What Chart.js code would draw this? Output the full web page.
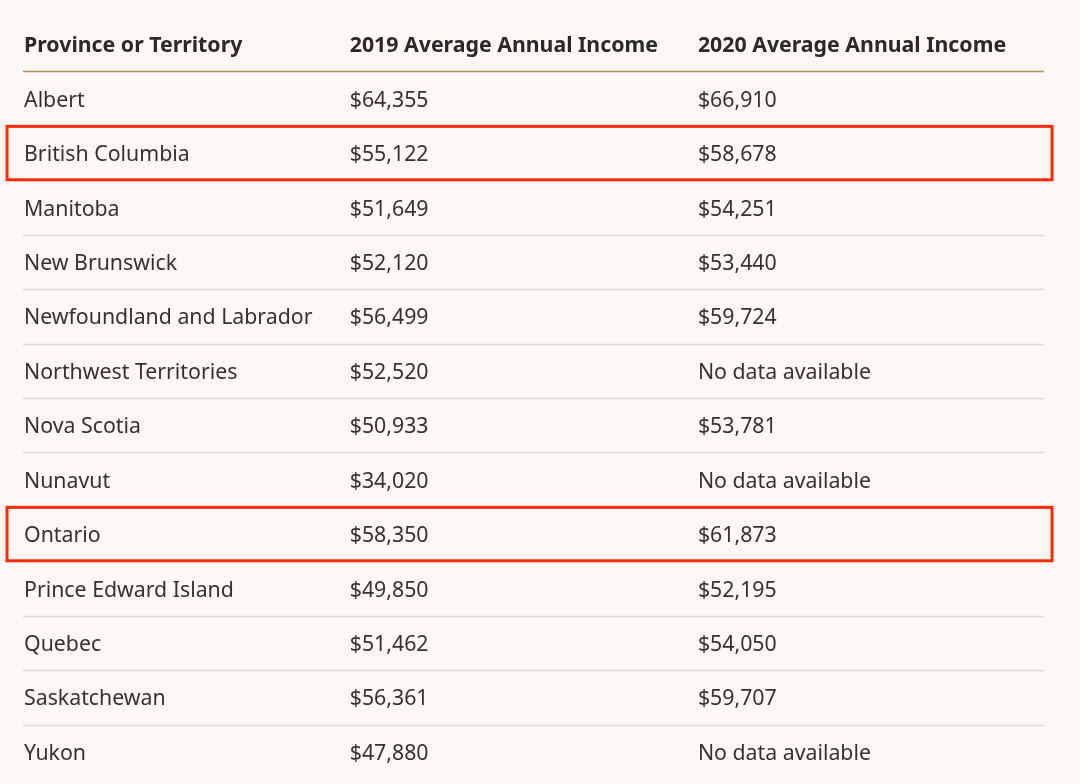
<!DOCTYPE html>
<html>
<head>
<meta charset="utf-8">
<script src="https://cdn.jsdelivr.net/npm/chart.js@4/dist/chart.umd.min.js"></script>
<style>
  html, body { margin: 0; padding: 0; background: #fdf8f3; }
  #wrap { width: 1080px; height: 784px; }
</style>
</head>
<body>
<div id="wrap"><canvas id="incomeTable"></canvas></div>
<script>
    // ---------------- Table data -------------------------------------------
    const HEADERS   = [ 'Province or Territory', '2019 Average Annual Income', '2020 Average Annual Income' ] ;
    const PROVINCES = [ 'Albert', 'British Columbia', 'Manitoba', 'New Brunswick',
                        'Newfoundland and Labrador', 'Northwest Territories', 'Nova Scotia',
                        'Nunavut', 'Ontario', 'Prince Edward Island', 'Quebec',
                        'Saskatchewan', 'Yukon' ] ;
    const INCOME_2019 = [ 64355, 55122, 51649, 52120, 56499, 52520, 50933,
                          34020, 58350, 49850, 51462, 56361, 47880 ] ;
    const INCOME_2020 = [ 66910, 58678, 54251, 53440, 59724, null, 53781,
                          null, 61873, 52195, 54050, 59707, null ] ;
    const HIGHLIGHTED = [ 'British Columbia', 'Ontario' ] ;
    const NO_DATA     = 'No data available' ;

    // ---------------- Styles -----------------------------------------------
    const TEXT_COLOR      = '#333333' ;
    const HEAD_COLOR      = '#2a2a2a' ;
    const HEAD_LINE_COLOR = '#b0905e' ;
    const ROW_LINE_COLOR  = '#dddbd7' ;
    const BOX_COLOR       = '#ff2a0c' ;
    const FONT_FAMILY     = '"Noto Sans", "Open Sans", sans-serif' ;
    const FONT_SIZE       = 21.3 ;
    const TEXT_SHIFT      = 2 ;     // text sits a little below row centre
    const COL_STARTS      = [ 0.001, 0.32, 0.661 ] ;   // fraction of table width

    const rowLabels = [ 'header' ].concat( PROVINCES ) ;

    function fmtMoney( v ) {
        if( v == null ) { return NO_DATA ; }
        return '$' + v.toLocaleString( 'en-US' ) ;
    }

    function rowBoundary( yScale, i ) {
        // pixel between row i and row i+1
        const a = yScale.getPixelForValue( i ) ;
        const b = yScale.getPixelForValue( i + 1 ) ;
        return ( a + b ) / 2 ;
    }

    const tablePlugin = {
        id : 'tablePlugin',
        afterDraw( chart ) {
            const ctx = chart.ctx ;
            const xs  = chart.scales.x ;
            const ys  = chart.scales.y ;
            const left  = xs.getPixelForValue( 0 ) ;
            const right = xs.getPixelForValue( 1 ) ;
            const half  = ( ys.getPixelForValue( 1 ) - ys.getPixelForValue( 0 ) ) / 2 ;

            ctx.save() ;

            // row separators
            for( var i = 1; i < PROVINCES.length; i++ ) {
                const y = Math.round( rowBoundary( ys, i ) ) + 0.5 ;
                ctx.strokeStyle = ROW_LINE_COLOR ;
                ctx.lineWidth = 1.5 ;
                ctx.beginPath() ;
                ctx.moveTo( left, y ) ;
                ctx.lineTo( right, y ) ;
                ctx.stroke() ;
            }

            // header underline
            const hy = Math.round( rowBoundary( ys, 0 ) ) + 0.5 ;
            ctx.strokeStyle = HEAD_LINE_COLOR ;
            ctx.lineWidth = 1.5 ;
            ctx.beginPath() ;
            ctx.moveTo( left, hy ) ;
            ctx.lineTo( right, hy ) ;
            ctx.stroke() ;

            // header text
            ctx.textBaseline = 'middle' ;
            ctx.textAlign = 'left' ;
            ctx.fillStyle = HEAD_COLOR ;
            ctx.font = 'bold ' + FONT_SIZE + 'px ' + FONT_FAMILY ;
            for( var c = 0; c < HEADERS.length; c++ ) {
                ctx.fillText( HEADERS[c], xs.getPixelForValue( COL_STARTS[c] ), ys.getPixelForValue( 0 ) + TEXT_SHIFT ) ;
            }

            // body text
            ctx.fillStyle = TEXT_COLOR ;
            ctx.font = FONT_SIZE + 'px ' + FONT_FAMILY ;
            for( var r = 0; r < PROVINCES.length; r++ ) {
                const y = ys.getPixelForValue( r + 1 ) + TEXT_SHIFT ;
                ctx.fillText( PROVINCES[r],              xs.getPixelForValue( COL_STARTS[0] ), y ) ;
                ctx.fillText( fmtMoney( INCOME_2019[r] ), xs.getPixelForValue( COL_STARTS[1] ), y ) ;
                ctx.fillText( fmtMoney( INCOME_2020[r] ), xs.getPixelForValue( COL_STARTS[2] ), y ) ;
            }

            // highlight boxes
            ctx.strokeStyle = BOX_COLOR ;
            ctx.lineWidth = 3 ;
            for( var h = 0; h < HIGHLIGHTED.length; h++ ) {
                const idx = PROVINCES.indexOf( HIGHLIGHTED[h] ) + 1 ;
                const cy  = ys.getPixelForValue( idx ) ;
                ctx.strokeRect( left - 16, cy - half + 0.5, right - left + 24, half * 2 - 1 ) ;
            }

            ctx.restore() ;
        }
    } ;

    new Chart( document.getElementById( 'incomeTable' ), {
        type : 'scatter',
        data : {
            labels   : rowLabels,
            datasets : [ { data : [] } ]
        },
        options : {
            responsive : true,
            maintainAspectRatio : false,
            animation : false,
            layout : { padding : { left : 23, right : 36, top : 17, bottom : 5 } },
            plugins : {
                legend  : { display : false },
                tooltip : { enabled : false }
            },
            scales : {
                x : { type : 'linear', min : 0, max : 1, display : false },
                y : { type : 'category', labels : rowLabels, offset : true, display : false }
            }
        },
        plugins : [ tablePlugin ]
    } ) ;
</script>
</body>
</html>
